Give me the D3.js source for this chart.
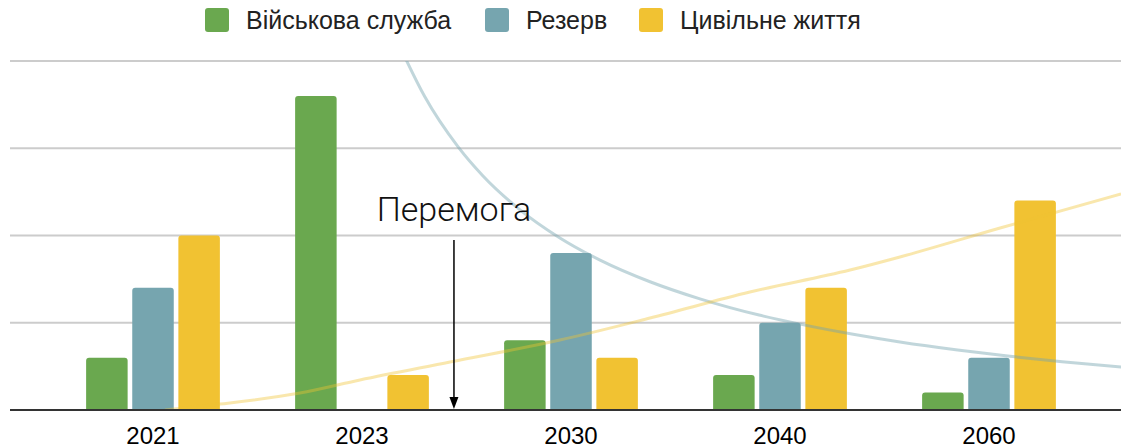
<!DOCTYPE html>
<html>
<head>
<meta charset="utf-8">
<script src="https://cdn.jsdelivr.net/npm/d3@7"></script>
<style>
  body { margin: 0; background: #fff; }
  svg { display: block; }
</style>
</head>
<body>
<svg></svg>
<script>
var width = 1121,
    height = 448;

// data
var years = ["2021", "2023", "2030", "2040", "2060"];
var seriesNames = ["Військова служба", "Резерв", "Цивільне життя"];
var military = [3, 18, 4, 2, 1];
var reserve = [7, 0, 9, 5, 3];
var civilian = [10, 2, 3, 7, 12];
var yTicks = [0, 5, 10, 15, 20];

// trend lines (x = category position, 0..4)
var reserveTrendX = [1.19, 1.3, 1.459, 1.579, 1.75, 1.947, 2.139, 2.378, 2.617, 2.9, 3.096, 3.35, 3.574, 3.85, 4.1, 4.35, 4.632, 4.7];
var reserveTrendY = [20.6, 17.96, 15.09, 13.41, 11.53, 9.86, 8.59, 7.35, 6.37, 5.44, 4.92, 4.34, 3.9, 3.44, 3.08, 2.77, 2.46, 2.39];
var civilTrendX = [0.057, 0.321, 0.703, 0.99, 1.421, 1.947, 2.378, 2.856, 3.335, 3.574, 4.053, 4.632];
var civilTrendY = [0, 0.34, 0.97, 1.72, 2.75, 4.01, 5.27, 6.76, 8.02, 8.77, 10.43, 12.38];

var victoryLabel = "Перемога";
var victoryPos = 1.44;

var colors = ["#6aa84f", "#76a5af", "#f1c232"];
var values = [military, reserve, civilian];

var svg = d3.select("svg")
    .attr("width", width)
    .attr("height", height);

var plotL = 10, plotR = 1121, plotT = 61, plotB = 410;

var x = d3.scaleBand()
    .domain(years)
    .range([48.5, 1093.5])
    .paddingInner(0.36)
    .paddingOuter(0.18);

var xSub = d3.scaleBand()
    .domain(d3.range(seriesNames.length))
    .range([0, x.bandwidth()])
    .paddingInner(0.1);

var y = d3.scaleLinear()
    .domain([0, 20])
    .range([plotB, plotT]);

// continuous scale over the category centers
var xc = d3.scaleLinear()
    .domain([0, years.length - 1])
    .range([x(years[0]) + x.bandwidth() / 2, x(years[years.length - 1]) + x.bandwidth() / 2]);

svg.append("defs").append("clipPath")
    .attr("id", "plot")
    .append("rect")
    .attr("x", plotL).attr("y", plotT)
    .attr("width", plotR - plotL).attr("height", plotB - plotT);

// gridlines
svg.append("g")
    .selectAll("line")
    .data(yTicks.slice(1))
    .join("line")
    .attr("x1", plotL)
    .attr("x2", plotR)
    .attr("y1", d => y(d))
    .attr("y2", d => y(d))
    .attr("stroke", "#cccccc")
    .attr("stroke-width", 2);

// bars
function barPath(x0, y0, w, h, r) {
    if (h <= 0) return "";
    r = Math.min(r, h, w / 2);
    return "M" + x0 + "," + (y0 + h) +
        "V" + (y0 + r) +
        "Q" + x0 + "," + y0 + " " + (x0 + r) + "," + y0 +
        "H" + (x0 + w - r) +
        "Q" + (x0 + w) + "," + y0 + " " + (x0 + w) + "," + (y0 + r) +
        "V" + (y0 + h) + "Z";
}

var groups = svg.append("g")
    .selectAll("g")
    .data(years)
    .join("g")
    .attr("transform", d => "translate(" + x(d) + ",0)");

groups.selectAll("path")
    .data((d, i) => values.map((s, k) => ({ k: k, v: s[i] })))
    .join("path")
    .attr("d", d => barPath(xSub(d.k), y(d.v), xSub.bandwidth(), y(0) - y(d.v), 3))
    .attr("fill", d => colors[d.k]);

// trend lines
var line = d3.line()
    .x(d => xc(d[0]))
    .y(d => y(d[1]))
    .curve(d3.curveMonotoneX);

var trends = svg.append("g").attr("clip-path", "url(#plot)");

trends.append("path")
    .attr("d", line(d3.zip(reserveTrendX, reserveTrendY)))
    .attr("fill", "none")
    .attr("stroke", colors[1])
    .attr("stroke-opacity", 0.45)
    .attr("stroke-width", 3);

trends.append("path")
    .attr("d", line(d3.zip(civilTrendX, civilTrendY)))
    .attr("fill", "none")
    .attr("stroke", colors[2])
    .attr("stroke-opacity", 0.4)
    .attr("stroke-width", 3);

// baseline
svg.append("line")
    .attr("x1", plotL).attr("x2", plotR)
    .attr("y1", y(0)).attr("y2", y(0))
    .attr("stroke", "#333")
    .attr("stroke-width", 2);

// x labels
svg.append("g")
    .selectAll("text")
    .data(years)
    .join("text")
    .attr("x", d => x(d) + x.bandwidth() / 2)
    .attr("y", 444)
    .attr("text-anchor", "middle")
    .attr("font-family", "Liberation Sans, Arial, sans-serif")
    .attr("font-size", 24)
    .attr("fill", "#000")
    .text(d => d);

// annotation
var ax = xc(victoryPos);
svg.append("text")
    .attr("x", ax)
    .attr("y", 221)
    .attr("text-anchor", "middle")
    .attr("font-family", "Roboto, sans-serif")
    .attr("font-weight", 300)
    .attr("font-size", 34)
    .attr("fill", "#111")
    .text(victoryLabel);

svg.append("line")
    .attr("x1", ax).attr("x2", ax)
    .attr("y1", 240).attr("y2", y(0) - 10)
    .attr("stroke", "#000")
    .attr("stroke-width", 1.5);

svg.append("path")
    .attr("d", "M" + (ax - 4.5) + "," + (y(0) - 13) + "L" + (ax + 4.5) + "," + (y(0) - 13) + "L" + ax + "," + (y(0) - 1) + "Z")
    .attr("fill", "#000");

// legend
var legendX = [205, 485, 639];
var legend = svg.append("g")
    .selectAll("g")
    .data(seriesNames)
    .join("g")
    .attr("transform", (d, i) => "translate(" + legendX[i] + ",8)");

legend.append("rect")
    .attr("width", 24)
    .attr("height", 24)
    .attr("rx", 3)
    .attr("fill", (d, i) => colors[i]);

legend.append("text")
    .attr("x", 41)
    .attr("y", 21)
    .attr("font-family", "Liberation Sans, Arial, sans-serif")
    .attr("font-size", 25)
    .attr("fill", "#222")
    .text(d => d);
</script>
</body>
</html>
